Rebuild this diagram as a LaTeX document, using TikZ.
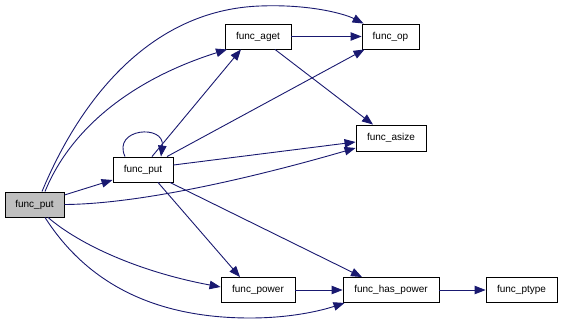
\documentclass[tikz,border=0pt]{standalone}
\usepackage{fontspec}
\setmainfont{Liberation Sans}
\usetikzlibrary{arrows.meta}
\definecolor{edgeblue}{HTML}{191970}
\definecolor{rootgray}{HTML}{BFBFBF}
\begin{document}
\begin{tikzpicture}[x=1pt,y=-1pt,
  fn/.style={draw=black, line width=0.9pt, fill=white, rectangle,
    minimum height=25pt, inner sep=0pt, font=\fontsize{10}{12}\selectfont},
  root/.style={fn, fill=rootgray},
  call/.style={draw=edgeblue, line width=0.9pt,
    -{Triangle[length=11pt,width=8.5pt]}}]
\useasboundingbox (0,0) rectangle (563,324);

% functions
\node[root, minimum width=59pt] (A)   at (34.5,204.5) {func\_put};
\node[fn, minimum width=60pt]   (B)   at (143,169.5)  {func\_put};
\node[fn, minimum width=66pt]   (aget) at (258,36.5)  {func\_aget};
\node[fn, minimum width=57pt]   (op)  at (390.5,36.5) {func\_op};
\node[fn, minimum width=70pt, minimum height=26pt] (asize) at (391,138) {func\_asize};
\node[fn, minimum width=74pt]   (power) at (258,290)  {func\_power};
\node[fn, minimum width=96pt]   (hasp) at (391,290)   {func\_has\_power};
\node[fn, minimum width=71pt]   (ptype) at (521.5,290) {func\_ptype};

% calls from the outer func_put
\draw[call] ([yshift=9.5pt]A.east) -- ([yshift=-10.5pt]B.west);
\draw[call] ([xshift=10.5pt]A.north) .. controls (70,130) and (130,80) .. ([xshift=-31pt]aget.south);
\draw[call] ([xshift=7.5pt]A.north) .. controls (80,100) and (150,10) .. (260,6)
  .. controls (310,4) and (345,14) .. ([xshift=2pt]op.north west);
\draw[call] (A.east) .. controls (150,204) and (280,170) .. ([yshift=-10pt]asize.west);
\draw[call] ([xshift=13.5pt]A.south) .. controls (80,245) and (140,272) .. ([yshift=3pt]power.west);
\draw[call] ([xshift=10.5pt]A.south) .. controls (85,280) and (150,318) .. (250,318)
  .. controls (290,318) and (320,311) .. ([xshift=2pt]hasp.south west);

% calls from the inner func_put
\draw[call] ([xshift=-18pt]B.north) .. controls (112,128) and (165,124) .. ([xshift=18pt]B.north);
\draw[call] ([xshift=9pt]B.north) -- ([xshift=-17pt]aget.south);
\draw[call] ([xshift=24pt]B.north) -- ([xshift=3pt]op.south west);
\draw[call] ([yshift=4.5pt]B.east) -- ([yshift=-4pt]asize.west);
\draw[call] ([xshift=15pt]B.south) -- ([xshift=-18pt]power.north);
\draw[call] ([xshift=27pt]B.south) -- ([xshift=-29pt]hasp.north);

% remaining calls
\draw[call] (aget.east) -- (op.west);
\draw[call] ([xshift=17pt]aget.south) -- ([xshift=-18pt]asize.north);
\draw[call] (power.east) -- (hasp.west);
\draw[call] (hasp.east) -- (ptype.west);
\end{tikzpicture}
\end{document}
